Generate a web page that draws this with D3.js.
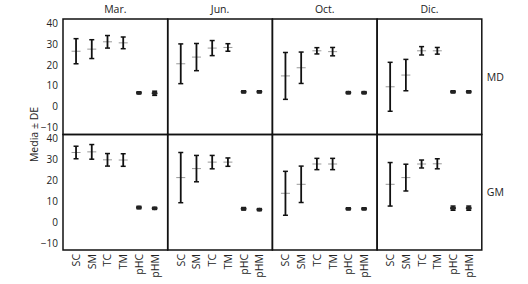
<!DOCTYPE html>
<html>
<head>
<meta charset="utf-8">
<script src="https://cdn.jsdelivr.net/npm/d3@7"></script>
<style>
  body { margin: 0; background: #fff; }
  text { font-family: "Open Sans", sans-serif; fill: #222; }
</style>
</head>
<body>
<svg width="528" height="284"></svg>
<script>
  var svg = d3.select("svg");

  var months = ["Mar.", "Jun.", "Oct.", "Dic."];
  var sites = ["MD", "GM"];
  var variables = ["SC", "SM", "TC", "TM", "pHC", "pHM"];
  var yTicks = [-10, 0, 10, 20, 30, 40];

  // mean per month, one row per site
  var meanMD = [
    [26.5, 27.5, 31.0, 30.5, 6.6, 6.4],
    [20.5, 23.7, 28.0, 28.3, 7.1, 7.1],
    [14.7, 18.6, 26.7, 26.3, 6.7, 6.7],
    [9.5, 15.1, 26.7, 26.7, 7.1, 7.1]
  ];
  var sdMD = [
    [6.0, 4.5, 3.0, 2.8, 0.5, 1.0],
    [9.5, 6.5, 3.6, 1.8, 0.5, 0.5],
    [11.2, 7.5, 1.5, 2.0, 0.5, 0.5],
    [11.7, 7.5, 2.0, 1.6, 0.5, 0.5]
  ];
  var meanGM = [
    [33.3, 33.6, 29.8, 29.7, 7.0, 6.6],
    [21.3, 25.6, 28.7, 28.7, 6.4, 6.0],
    [13.8, 18.1, 27.8, 27.8, 6.4, 6.4],
    [18.1, 21.3, 27.8, 27.9, 6.7, 6.7]
  ];
  var sdGM = [
    [3.0, 3.5, 3.0, 3.0, 0.6, 0.5],
    [12.0, 6.3, 3.2, 2.0, 0.6, 0.5],
    [10.5, 8.7, 2.7, 2.7, 0.5, 0.5],
    [10.4, 6.4, 1.9, 2.4, 1.0, 1.0]
  ];

  var means = [meanMD, meanGM];
  var sds = [sdMD, sdGM];

  var margin = { top: 19, left: 63 };
  var panelW = 104.7;
  var panelH = 115.5;

  var xScale = d3.scalePoint()
    .domain(variables)
    .range([0, panelW])
    .padding(0.83);

  var yScale = d3.scaleLinear()
    .domain([-13.3, 41.9])
    .range([panelH, 0]);

  var g = svg.append("g")
    .attr("transform", "translate(" + margin.left + "," + margin.top + ")");

  sites.forEach(function (site, r) {
    months.forEach(function (month, c) {
      var p = g.append("g")
        .attr("transform", "translate(" + (c * panelW) + "," + (r * panelH) + ")");

      var rows = variables.map(function (v, i) {
        return { v: v, m: means[r][c][i], s: sds[r][c][i] };
      });

      // gray mean marker
      p.selectAll(".mean")
        .data(rows.filter(function (d) { return d.v.indexOf("pH") < 0; }))
        .enter().append("line")
        .attr("x1", function (d) { return xScale(d.v) - 4.5; })
        .attr("x2", function (d) { return xScale(d.v) + 4.5; })
        .attr("y1", function (d) { return yScale(d.m); })
        .attr("y2", function (d) { return yScale(d.m); })
        .attr("stroke", "#999")
        .attr("stroke-width", 1);

      p.selectAll(".bar")
        .data(rows)
        .enter().append("line")
        .attr("x1", function (d) { return xScale(d.v); })
        .attr("x2", function (d) { return xScale(d.v); })
        .attr("y1", function (d) { return yScale(d.m + d.s); })
        .attr("y2", function (d) { return yScale(d.m - d.s); })
        .attr("stroke", "#111")
        .attr("stroke-width", 1.8);

      [1, -1].forEach(function (sign) {
        p.selectAll(".cap" + sign)
          .data(rows)
          .enter().append("line")
          .attr("x1", function (d) { return xScale(d.v) - 2.5; })
          .attr("x2", function (d) { return xScale(d.v) + 2.5; })
          .attr("y1", function (d) { return yScale(d.m + sign * d.s); })
          .attr("y2", function (d) { return yScale(d.m + sign * d.s); })
          .attr("stroke", "#111")
          .attr("stroke-width", 1.5);
      });

      // pH means drawn as small dots
      p.selectAll(".dot")
        .data(rows.filter(function (d) { return d.v.indexOf("pH") === 0; }))
        .enter().append("ellipse")
        .attr("cx", function (d) { return xScale(d.v); })
        .attr("cy", function (d) { return yScale(d.m); })
        .attr("rx", 3)
        .attr("ry", 1.8)
        .attr("fill", "#222");

      p.append("rect")
        .attr("width", panelW)
        .attr("height", panelH)
        .attr("fill", "none")
        .attr("stroke", "#111")
        .attr("stroke-width", 1.5);

      if (c === 0) {
        var yAxis = p.append("g").call(d3.axisLeft(yScale).tickValues(yTicks).tickSize(0).tickPadding(5));
        yAxis.select(".domain").remove();
        yAxis.selectAll("text").style("font-size", "10px").attr("fill", "#222");
      }
      if (r === 0) {
        p.append("text")
          .attr("x", panelW / 2)
          .attr("y", -6)
          .attr("text-anchor", "middle")
          .style("font-size", "10.5px")
          .text(month);
      }
      if (r === 1) {
        p.selectAll(".xlab")
          .data(variables)
          .enter().append("text")
          .attr("transform", function (d) {
            return "translate(" + (xScale(d) + 4) + "," + (panelH + 4) + ") rotate(-90)";
          })
          .attr("text-anchor", "end")
          .style("font-size", "10.5px")
          .text(function (d) { return d; });
      }
      if (c === months.length - 1) {
        p.append("text")
          .attr("x", panelW + 5)
          .attr("y", panelH / 2 + 4)
          .style("font-size", "10.5px")
          .text(site);
      }
    });
  });

  svg.append("text")
    .attr("transform", "translate(38," + (margin.top + panelH) + ") rotate(-90)")
    .attr("text-anchor", "middle")
    .style("font-size", "10.5px")
    .text("Media ± DE");
</script>
</body>
</html>
